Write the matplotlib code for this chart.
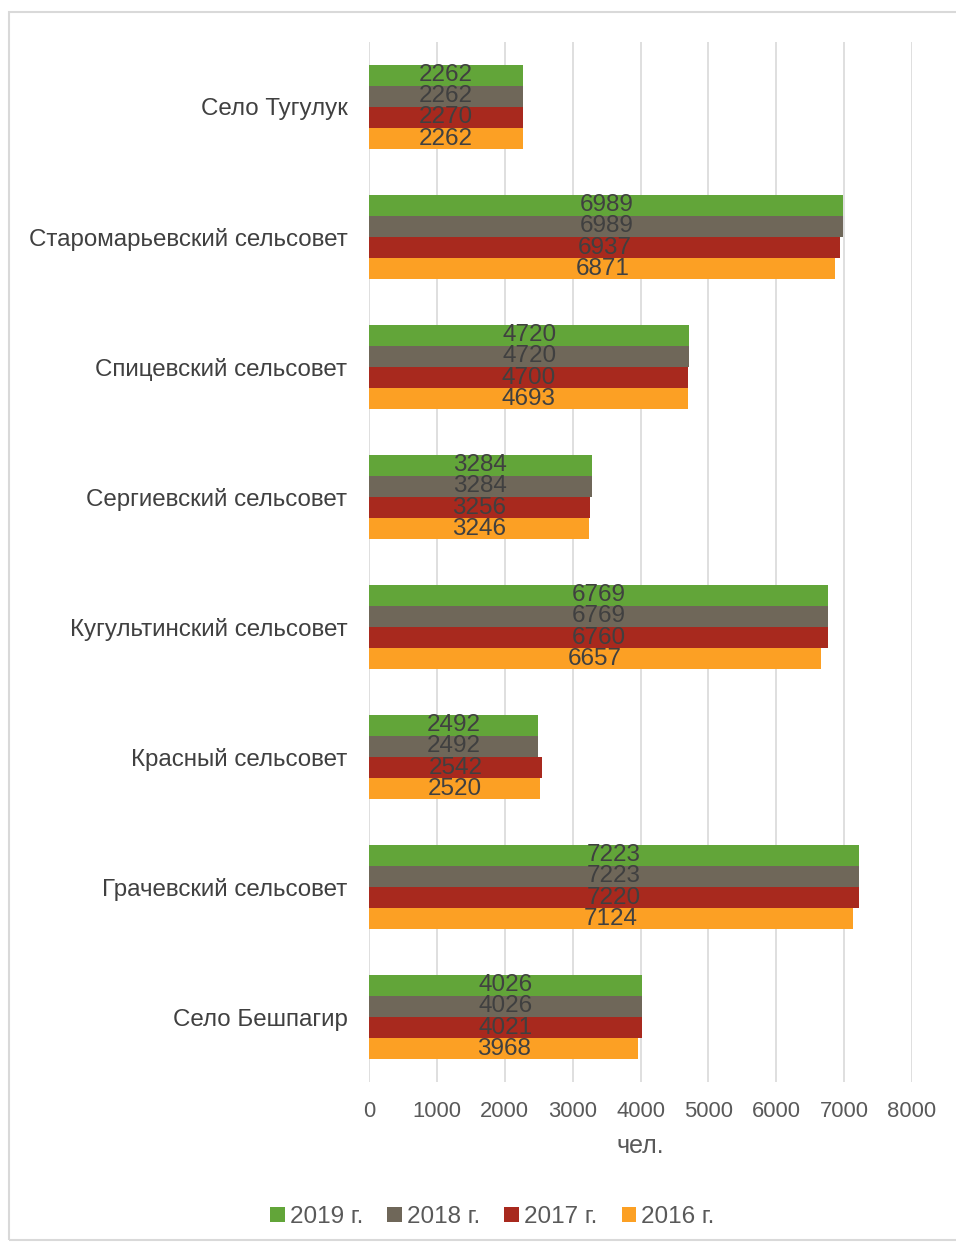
import numpy as np
import matplotlib.pyplot as plt
from matplotlib.patches import Rectangle

plt.rcParams['font.family'] = ['Liberation Sans', 'DejaVu Sans']

# данные
categories = ['Село Тугулук', 'Старомарьевский сельсовет', 'Спицевский сельсовет',
              'Сергиевский сельсовет', 'Кугультинский сельсовет', 'Красный сельсовет',
              'Грачевский сельсовет', 'Село Бешпагир']
years = ['2019 г.', '2018 г.', '2017 г.', '2016 г.']
v2019 = [2262, 6989, 4720, 3284, 6769, 2492, 7223, 4026]
v2018 = [2262, 6989, 4720, 3284, 6769, 2492, 7223, 4026]
v2017 = [2270, 6937, 4700, 3256, 6760, 2542, 7220, 4021]
v2016 = [2262, 6871, 4693, 3246, 6657, 2520, 7124, 3968]
colors = ['#62A539', '#6F6759', '#A8291E', '#FCA024']

fig = plt.figure(figsize=(9.56, 12.45), dpi=100)
ax = fig.add_axes([0.386, 0.1309, 0.568, 0.8354])

# рамка вокруг диаграммы
fig.patches.append(Rectangle((9 / 956, 5 / 1245), 1.2, 1 - 17 / 1245,
                             transform=fig.transFigure, fill=False,
                             edgecolor='#D9D9D9', linewidth=1.5))

y = np.arange(len(categories))
h = 0.162
series = [v2019, v2018, v2017, v2016]
for i, (vals, col, lab) in enumerate(zip(series, colors, years)):
    pos = y + (i - 1.5) * h
    bars = ax.barh(pos, vals, height=h, color=col, label=lab, zorder=3)
    for b, v in zip(bars, vals):
        ax.text(v / 2, b.get_y() + h / 2, str(v), ha='center', va='center',
                fontsize=17.5, color='#404040', zorder=4)

ax.set_ylim(len(categories) - 0.5, -0.5)
ax.set_xlim(0, 8000)
ax.set_xticks(range(0, 8001, 1000))
ax.set_yticks(y)
ax.set_yticklabels(categories)
ax.tick_params(axis='y', length=0, pad=15.5, labelsize=17.4, labelcolor='#404040')
ax.tick_params(axis='x', length=0, pad=14, labelsize=15.8, labelcolor='#595959')
ax.xaxis.grid(True, color='#D9D9D9', linewidth=1.2, zorder=0)
for s in ax.spines.values():
    s.set_visible(False)
ax.set_xlabel('чел.', fontsize=18, color='#595959', labelpad=8)

fig.legend(loc='center', bbox_to_anchor=(0.515, 0.0225), ncol=4, frameon=False,
           fontsize=17.5, labelcolor='#595959', handlelength=0.6, handleheight=0.6,
           handletextpad=0.2, columnspacing=1.0)

fig.savefig('out.png', dpi=100)
